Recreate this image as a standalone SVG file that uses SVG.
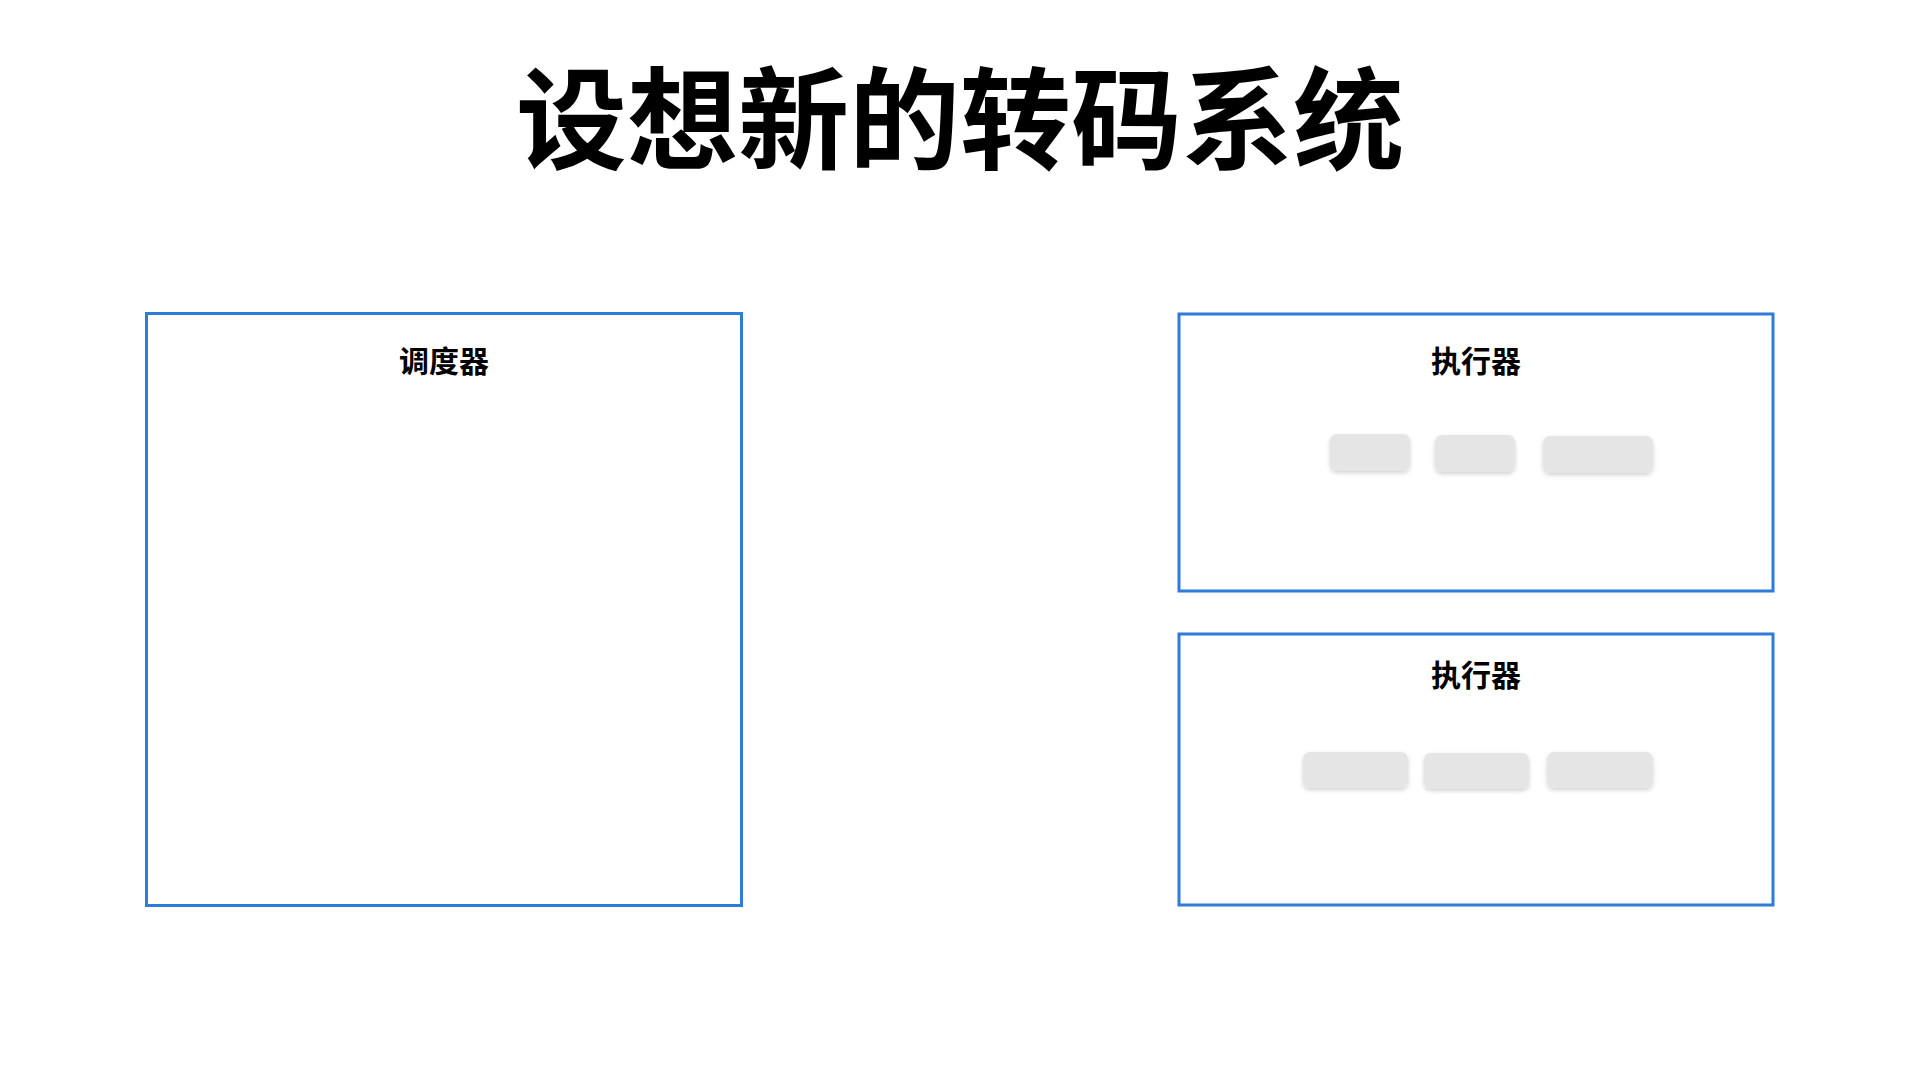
<svg xmlns="http://www.w3.org/2000/svg" width="1920" height="1080" viewBox="0 0 1920 1080">
  <defs>
    <filter id="shadow" x="-20%" y="-30%" width="140%" height="170%">
      <feDropShadow dx="0" dy="2" stdDeviation="2" flood-color="#000" flood-opacity="0.18"/>
    </filter>
  </defs>
  <style>
    .frame { fill: #ffffff; stroke: #2f7bd8; stroke-width: 3; }
    .chip { fill: #e5e5e5; filter: url(#shadow); }
    .title { font-family: "Noto Sans CJK SC", "Noto Sans", sans-serif; font-weight: 600; font-size: 111px; fill: #000; text-anchor: middle; }
    .label { font-family: "Noto Sans CJK SC", "Noto Sans", sans-serif; font-weight: 600; font-size: 30px; fill: #000; text-anchor: middle; }
  </style>
  <rect width="1920" height="1080" fill="#ffffff"/>
  <text class="title" x="960" y="161">设想新的转码系统</text>

  <g id="scheduler">
    <rect class="frame" x="146.5" y="313.5" width="595" height="592"/>
    <text class="label" x="444" y="372">调度器</text>
  </g>

  <g id="executor1">
    <rect class="frame" x="1179" y="314" width="594" height="277"/>
    <text class="label" x="1476" y="372">执行器</text>
    <rect class="chip" x="1330" y="434" width="80" height="37" rx="7"/>
    <rect class="chip" x="1435" y="435" width="80" height="37" rx="7"/>
    <rect class="chip" x="1543" y="436" width="110" height="37" rx="7"/>
  </g>

  <g id="executor2">
    <rect class="frame" x="1179" y="634" width="594" height="271"/>
    <text class="label" x="1476" y="686">执行器</text>
    <rect class="chip" x="1303" y="752" width="105" height="36" rx="7"/>
    <rect class="chip" x="1424" y="753" width="105" height="36" rx="7"/>
    <rect class="chip" x="1547" y="752" width="106" height="36" rx="7"/>
  </g>

  <g id="connectors"></g>
</svg>
